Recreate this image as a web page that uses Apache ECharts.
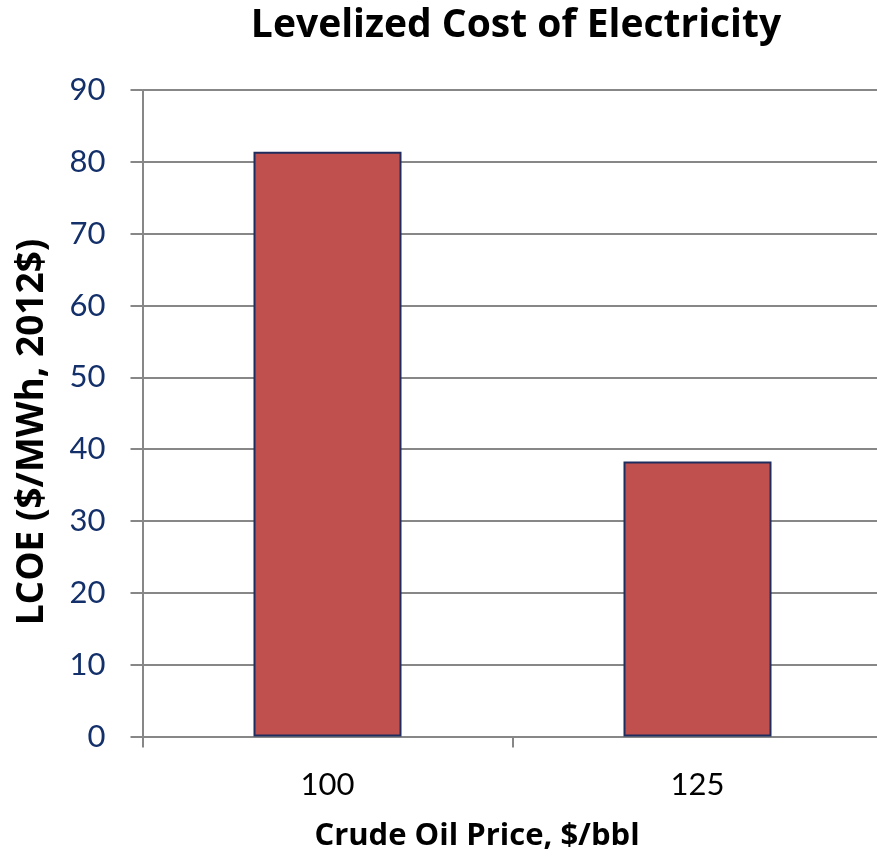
<!DOCTYPE html>
<html>
<head>
<meta charset="utf-8">
<script src="https://cdn.jsdelivr.net/npm/echarts@6/dist/echarts.min.js"></script>
<style>
  html, body { margin: 0; padding: 0; background: #ffffff; }
  #chart { width: 877px; height: 856px; }
</style>
</head>
<body>
<div id="chart"></div>
<script>
// Crude oil price scenarios ($/bbl) and resulting LCOE ($/MWh, 2012$)
const categories = ['100', '125'];
const lcoeValues = [81.4, 38.3];
const yTicks = { min: 0, max: 90, interval: 10 };

const FONT = 'Lato, "Open Sans", sans-serif';
const BOLD_FONT = '"Open Sans", Lato, sans-serif';
const GRID_GRAY = '#878787';

const chart = echarts.init(document.getElementById('chart'), null, { renderer: 'canvas' });

chart.setOption({
  backgroundColor: '#ffffff',
  animation: false,
  title: {
    text: 'Levelized Cost of Electricity',
    left: 511,
    top: 1,
    textAlign: 'center',
    textStyle: { fontFamily: BOLD_FONT, fontWeight: 'bold', fontSize: 39, color: '#000000' }
  },
  // the plot area runs a few pixels past the right edge of the canvas
  grid: { left: 142.5, width: 740, top: 90, bottom: 119.5, outerBoundsMode: 'none' },
  xAxis: {
    type: 'category',
    data: categories,
    boundaryGap: true,
    axisLine: { show: true, lineStyle: { color: GRID_GRAY, width: 2 } },
    axisTick: { show: true, alignWithLabel: false, length: 11, lineStyle: { color: GRID_GRAY, width: 2 } },
    axisLabel: { margin: 33, fontFamily: FONT, fontSize: 31, color: '#000000' }
  },
  yAxis: {
    type: 'value',
    min: yTicks.min,
    max: yTicks.max,
    interval: yTicks.interval,
    axisLine: { show: true, lineStyle: { color: GRID_GRAY, width: 2 } },
    axisTick: { show: true, length: 12, lineStyle: { color: GRID_GRAY, width: 2 } },
    splitLine: { show: true, lineStyle: { color: GRID_GRAY, width: 2 } },
    axisLabel: { margin: 37, fontFamily: FONT, fontSize: 31, color: '#14306A' }
  },
  graphic: [
    {
      type: 'text',
      x: 477,
      y: 836,
      style: {
        text: 'Crude Oil Price, $/bbl',
        fontFamily: BOLD_FONT, fontWeight: 'bold', fontSize: 31, fill: '#000000',
        align: 'center', verticalAlign: 'middle'
      }
    },
    {
      type: 'text',
      rotation: Math.PI / 2,
      x: 32,
      y: 432,
      style: {
        text: 'LCOE ($/MWh, 2012$)',
        fontFamily: BOLD_FONT, fontWeight: 'bold', fontSize: 37, fill: '#000000',
        align: 'center', verticalAlign: 'middle'
      }
    }
  ],
  series: [{
    type: 'bar',
    data: lcoeValues,
    barWidth: '40%',
    itemStyle: { color: '#C0504D', borderColor: '#1F2D5E', borderWidth: 2 }
  }]
});
</script>
</body>
</html>
